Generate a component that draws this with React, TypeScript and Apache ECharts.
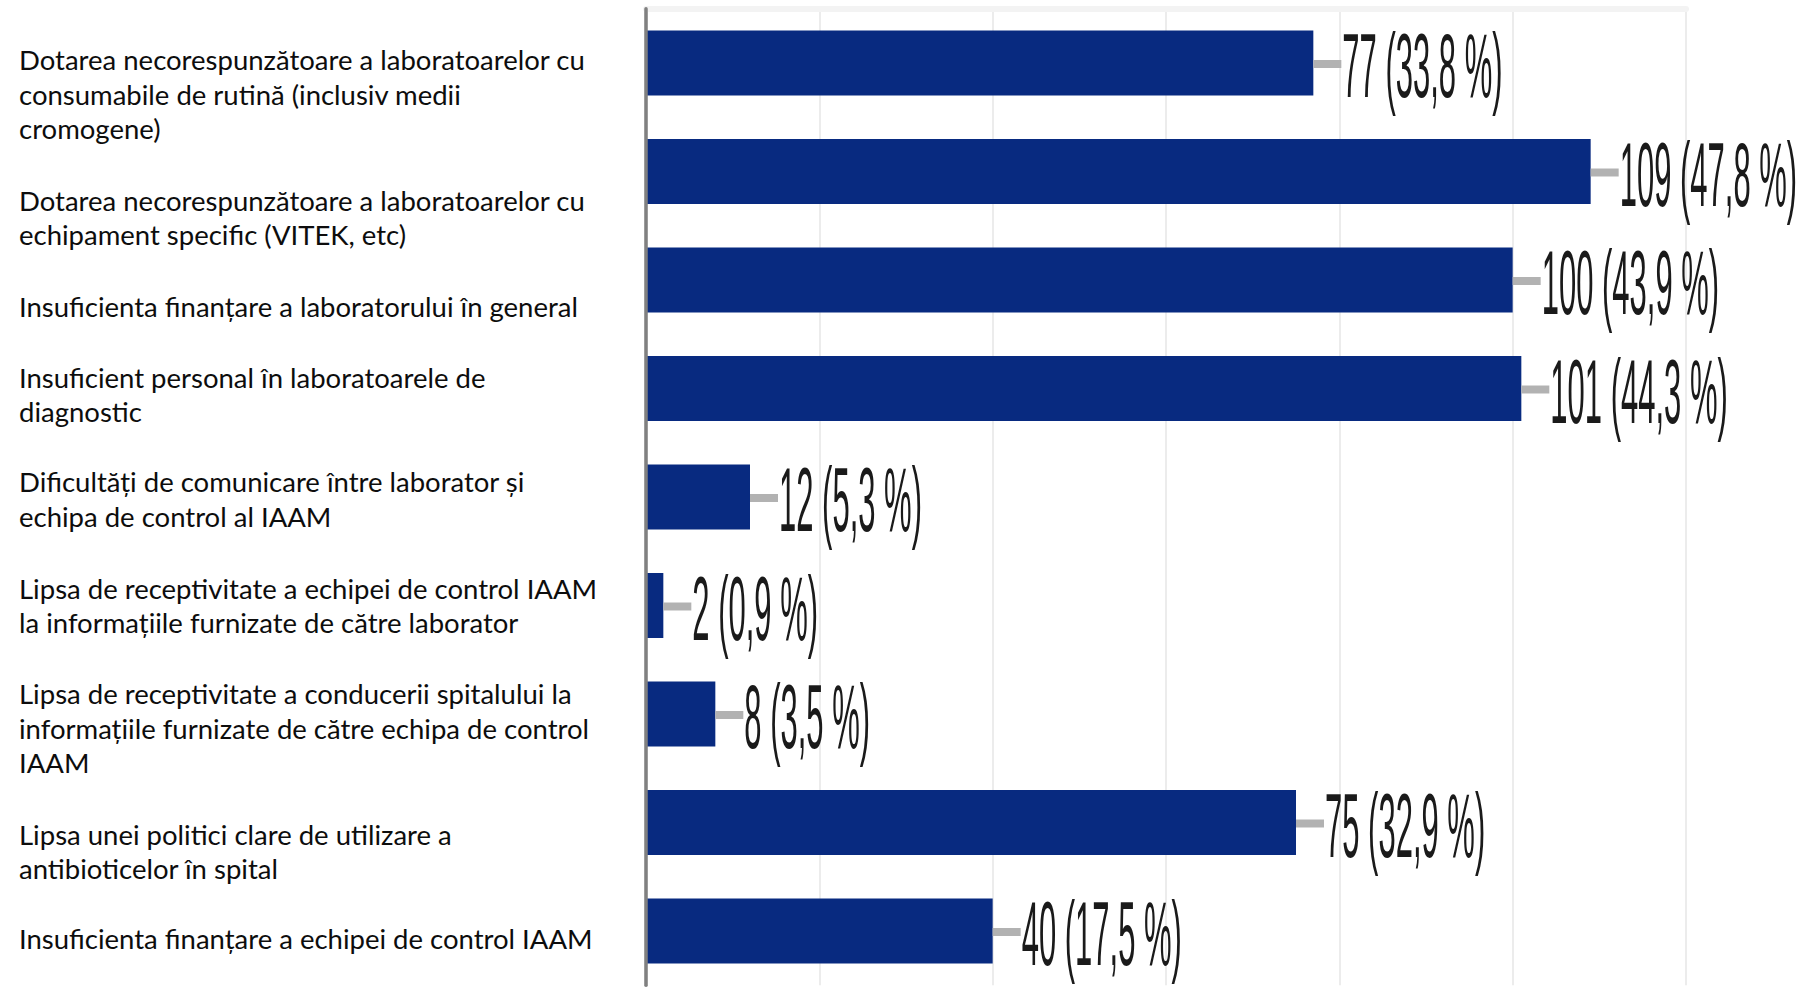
import React, { useEffect, useRef } from "react";
import * as echarts from "echarts";

const categories: string[] = [
  "Dotarea necorespunzătoare a laboratoarelor cu\nconsumabile de rutină (inclusiv medii\ncromogene)",
  "Dotarea necorespunzătoare a laboratoarelor cu\nechipament specific (VITEK, etc)",
  "Insuficienta finanțare a laboratorului în general",
  "Insuficient personal în laboratoarele de\ndiagnostic",
  "Dificultăți de comunicare între laborator și\nechipa de control al IAAM",
  "Lipsa de receptivitate a echipei de control IAAM\nla informațiile furnizate de către laborator",
  "Lipsa de receptivitate a conducerii spitalului la\ninformațiile furnizate de către echipa de control\nIAAM",
  "Lipsa unei politici clare de utilizare a\nantibioticelor în spital",
  "Insuficienta finanțare a echipei de control IAAM",
];

const counts: number[] = [77, 109, 100, 101, 12, 2, 8, 75, 40];
const percents: string[] = ["33,8", "47,8", "43,9", "44,3", "5,3", "0,9", "3,5", "32,9", "17,5"];

const xTicks = { min: 0, max: 120, interval: 20 };

// vertical offsets (px) of the category texts relative to their bar
const labelShift: number[] = [31, 46, 26, 6, 2, 0, 14, 29, 7];

export default function App() {
  const ref = useRef<HTMLDivElement>(null);

  useEffect(() => {
    if (!ref.current) return;
    const chart = echarts.init(ref.current, undefined, { renderer: "svg" });

    const rich: Record<string, any> = {
      t: { fontFamily: "Lato", fontSize: 27.5, lineHeight: 34.5, color: "#0d0d0d" },
    };
    labelShift.forEach((d, i) => {
      rich["g" + i] = { fontSize: 1, lineHeight: Math.max(0.01, Math.abs(2 * d)) };
    });

    chart.setOption({
      animation: false,
      backgroundColor: "#ffffff",
      grid: {
        left: 646,
        right: 130,
        top: 8.75,
        bottom: 1.75,
        containLabel: false,
        outerBoundsMode: "none",
      },
      xAxis: [
        {
          type: "value",
          min: xTicks.min,
          max: xTicks.max,
          interval: xTicks.interval,
          axisLabel: { show: false },
          axisLine: { show: false },
          axisTick: { show: false },
          splitLine: { show: true, lineStyle: { color: "#ececec", width: 2 } },
        },
        {
          type: "value",
          position: "top",
          min: xTicks.min,
          max: xTicks.max,
          interval: xTicks.interval,
          axisLabel: { show: false },
          axisLine: { show: true, lineStyle: { color: "#f3f3f3", width: 6 } },
          axisTick: { show: false },
          splitLine: { show: false },
        },
      ],
      yAxis: [
        {
          type: "category",
          inverse: true,
          data: categories,
          z: 10,
          axisLine: { show: true, lineStyle: { color: "#808080", width: 3.5 } },
          axisTick: { show: false },
          splitLine: { show: false },
          axisLabel: {
            interval: 0,
            align: "left",
            verticalAlign: "middle",
            margin: 627,
            fontFamily: "Lato",
            fontSize: 27.5,
            lineHeight: 34.5,
            color: "#0d0d0d",
            hideOverlap: false,
            rich,
            formatter: (value: string, index: number) => {
              const d = labelShift[index] || 0;
              const lines = value.split("\n").map((l) => `{t|${l}}`);
              if (d > 0) lines.unshift(`{g${index}| }`);
              else if (d < 0) lines.push(`{g${index}| }`);
              return lines.join("\n");
            },
          },
        },
        {
          type: "category",
          inverse: true,
          position: "right",
          data: categories,
          axisLine: { show: true, lineStyle: { color: "#f0f0f0", width: 4 } },
          axisTick: { show: false },
          axisLabel: { show: false },
          splitLine: { show: false },
        },
      ],
      series: [
        {
          type: "bar",
          data: counts,
          barCategoryGap: "40%",
          itemStyle: { color: "#082a80" },
          silent: true,
        },
        {
          type: "custom",
          data: counts.map((v, i) => [v, i]),
          encode: { x: 0, y: 1 },
          silent: true,
          z: 5,
          renderItem: (params: any, api: any) => {
            const v = api.value(0);
            const idx = api.value(1);
            const p = api.coord([v, idx]);
            const text = `${counts[params.dataIndex]} (${percents[params.dataIndex]} %)`;
            return {
              type: "group",
              children: [
                {
                  type: "line",
                  shape: { x1: p[0], y1: p[1] + 1, x2: p[0] + 28, y2: p[1] + 1 },
                  style: { stroke: "#b2b2b2", lineWidth: 8 },
                },
                {
                  type: "text",
                  x: p[0] + 29,
                  y: p[1] + 2,
                  scaleX: 1,
                  scaleY: 2.95,
                  style: {
                    text,
                    fontFamily: "Liberation Sans",
                    fontSize: 31,
                    fill: "#1a1a1a",
                    align: "left",
                    verticalAlign: "middle",
                    textAlign: "left",
                    textVerticalAlign: "middle",
                  },
                },
              ],
            };
          },
        },
      ],
    });

    return () => chart.dispose();
  }, []);

  return (
    <div
      ref={ref}
      style={{ position: "absolute", left: 0, top: 0, width: 1816, height: 987 }}
    />
  );
}
